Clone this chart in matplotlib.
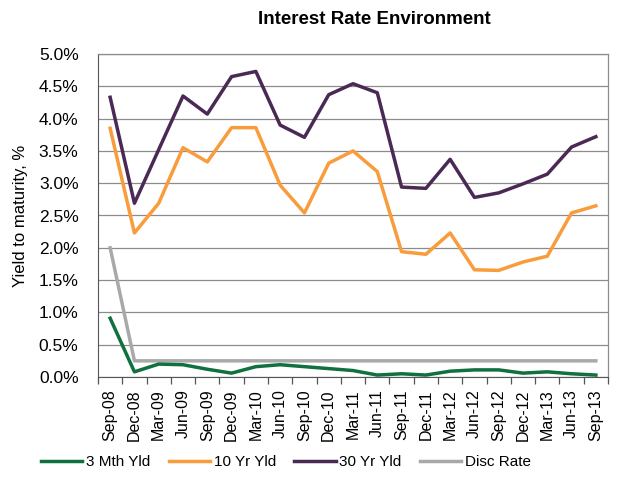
import matplotlib
matplotlib.use("Agg")
import matplotlib.pyplot as plt
from matplotlib.ticker import FuncFormatter, MultipleLocator

plt.rcParams['font.family'] = ['Liberation Sans', 'DejaVu Sans']

quarters = ["Sep-08", "Dec-08", "Mar-09", "Jun-09", "Sep-09", "Dec-09", "Mar-10",
            "Jun-10", "Sep-10", "Dec-10", "Mar-11", "Jun-11", "Sep-11", "Dec-11",
            "Mar-12", "Jun-12", "Sep-12", "Dec-12", "Mar-13", "Jun-13", "Sep-13"]

yld_3m = [0.91, 0.08, 0.20, 0.19, 0.12, 0.06, 0.16, 0.19, 0.16, 0.13, 0.10,
          0.03, 0.05, 0.03, 0.09, 0.11, 0.11, 0.06, 0.08, 0.05, 0.03]
yld_10y = [3.85, 2.23, 2.69, 3.55, 3.33, 3.86, 3.86, 2.97, 2.54, 3.31, 3.50,
           3.18, 1.94, 1.90, 2.23, 1.66, 1.65, 1.78, 1.87, 2.54, 2.65]
yld_30y = [4.33, 2.69, 3.52, 4.35, 4.07, 4.65, 4.73, 3.90, 3.71, 4.37, 4.54,
           4.40, 2.94, 2.92, 3.37, 2.78, 2.85, 2.99, 3.14, 3.56, 3.72]
disc_rate = [2.00, 0.25, 0.25, 0.25, 0.25, 0.25, 0.25, 0.25, 0.25, 0.25, 0.25,
             0.25, 0.25, 0.25, 0.25, 0.25, 0.25, 0.25, 0.25, 0.25, 0.25]

series = [
    ("3 Mth Yld", yld_3m, "#11703f"),
    ("10 Yr Yld", yld_10y, "#f89c3c"),
    ("30 Yr Yld", yld_30y, "#4a2a55"),
    ("Disc Rate", disc_rate, "#a9a9a9"),
]

fig = plt.figure(figsize=(6.34, 4.95), dpi=100)
ax = fig.add_axes([98 / 634, 1 - 377 / 495, 510 / 634, 323 / 495])

x = list(range(len(quarters)))
handles = []
for label, vals, color in series:
    h, = ax.plot(x, vals, color=color, lw=2.5, label=label)
    handles.append(h)
# grey discount-rate line sits beneath the yield lines
handles[3].set_zorder(1.5)

ax.set_xlim(-0.45, len(quarters) - 0.55)
ax.set_ylim(0, 5.0)
ax.yaxis.set_major_locator(MultipleLocator(0.5))
ax.yaxis.set_major_formatter(FuncFormatter(lambda v, p: f"{v:.1f}%"))
ax.grid(axis="y", color="#8c8c8c", lw=0.9)
ax.set_axisbelow(True)

ax.set_xticks(x)
ax.set_xticklabels(quarters, rotation=90, fontsize=11.5)
ax.tick_params(axis="x", length=0, pad=9)
# category boundary ticks
ax.set_xticks([i - 0.5 for i in range(len(quarters) + 1)], minor=True)
ax.tick_params(axis="x", which="minor", length=5, color="#555555", width=0.9)
ax.tick_params(axis="y", length=0, labelsize=12.5, pad=14)

for side in ("top", "right"):
    ax.spines[side].set_color("#8c8c8c")
    ax.spines[side].set_linewidth(0.9)
ax.spines["left"].set_color("#555555")
ax.spines["bottom"].set_color("#555555")

ax.set_ylabel("Yield to maturity, %", fontsize=12, labelpad=8)

fig.text(374 / 634, 1 - 20 / 495, "Interest Rate Environment", ha="center",
         va="center", fontsize=13.5, fontweight="bold")

fig.legend(handles=handles, loc="center", bbox_to_anchor=(286 / 634, 1 - 462 / 495),
           ncol=4, frameon=False, fontsize=11, handlelength=2.7,
           handletextpad=0.25, columnspacing=1.2)

fig.savefig("out.png", dpi=100)
